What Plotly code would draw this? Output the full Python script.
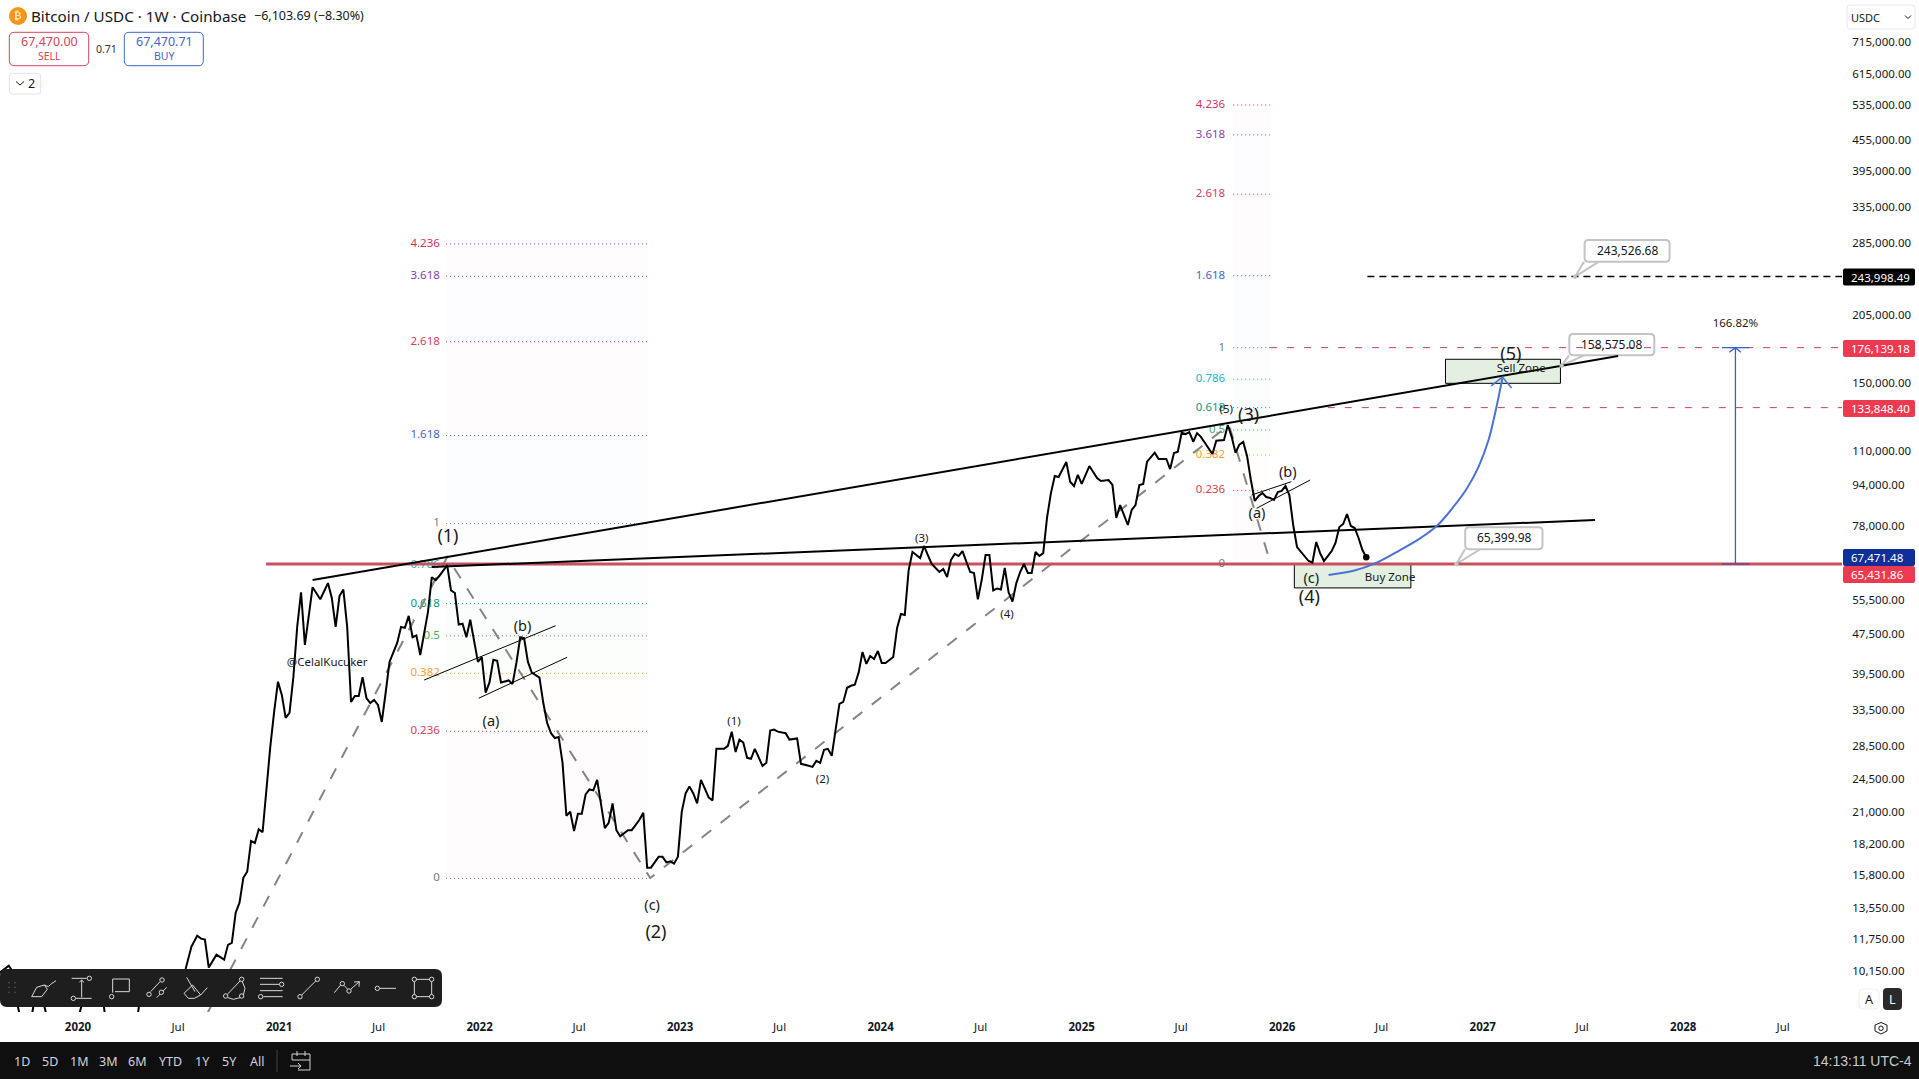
import datetime as dt
import plotly.graph_objects as go

W, H = 1919, 1079
PLOT_R, PLOT_B = 1842, 1012
FONT = "Noto Sans"

# ---------- data ----------
price_weeks = [-22,-21,-20,-19,-18,-17,-16,-15,-14,-13,-12,-11,-10,-9,-8,-7,-6,-5,-4,-3,-2,-1,0,1,2,3,4,5,6,7,8,9,10,11,12,13,14,15,16,17,18,19,20,21,22,23,24,25,26,27,28,
 29.5,31,32,33,34,36,38,39,40,41,42,43,44,45,46,47,48,49,50,51,52,53,54,55,56,57,58,59,60,61,63,65,66,67,68,69,70,71,72,73,74,75,76,77,78,79,80,81,83,84,85,86,87,88,89,91,92,93,94,96,97,98,99,100,101,102,104,105,106,107,108,109,110,112,113,114,115,116,117,118,120,121,122,123,124,125,126,127,128,129,130,131,132,133,134,135,137,138,139,140,141,143,144,146,147,148,149,151,152,153,154,155,156,157,158,159,160,161,162,164,165,166,168,169,170,171,172,173,174,175,176,177,178,179,180,181,182,184,185,187,188,190,191,192,193,194,195,196,197,198,199,200,201,202,203,204,205,206,207,208,209,210,212,213,214,215,216,217,219,220,221,222,224,225,226,227,228,229,230,231,232,233,234,235,236,237,238,239,240,241,242,243,244,245,246,247,248,249,250,251,252,253,254,255,257,258,259,260,261,263,265,266,268,269,270,271,273,274,275,276,277,278,280,281,283,284,285,286,287,288,289,290,291,292,295,296,298,299,300,301,302,303,304,305,306,307,308,309,310,311,312,313,314,315,316,317,318,319,320,321,322,323,324,325,326,327,328,329,330,331,332,333,334,335]
price_values = [9800,9990,10130,10270,10410,10130,8900,8200,8000,7900,8300,9200,9300,8800,8200,7600,7400,7300,7200,7300,7500,7300,8200,8700,8800,9300,9300,9800,9700,8300,7800,6500,5400,6200,6800,7000,7100,7800,8800,9500,9700,9300,9700,9600,9500,9300,9200,9200,9300,9700,10260,
 11360,11940,11780,11730,10320,10950,10700,11450,11560,13270,13890,15570,16000,18420,18250,19440,19170,23590,28340,33250,38190,35940,32350,33100,38990,49060,57500,45180,52300,58840,55690,59960,56000,49060,56500,58200,49060,34810,35760,35760,38990,35440,34630,35130,34340,31760,36300,41800,45600,49060,48850,51600,46800,47200,43150,52500,61600,60800,62000,65100,58000,57300,49600,49800,46800,50700,41800,42750,36300,38050,42200,42000,38050,38400,37800,41600,46800,46600,41800,39800,38900,34630,31600,30170,29500,29650,26340,20670,21050,19270,20860,20860,22800,23320,23220,24370,19530,20010,21870,19350,18820,19350,19350,20300,20960,16300,16300,17140,17140,16700,16780,16600,17140,21050,22900,23650,22900,21870,24370,22480,22170,28080,28080,28470,30380,27680,29300,28900,26950,26830,28080,27060,25980,26340,30520,30660,30380,30170,29300,29450,26220,25980,25860,26580,26340,27960,28080,27200,30660,34490,34810,37140,37480,37650,39810,43750,41420,42950,42360,43950,41610,41610,42750,48850,52060,51820,63650,69140,67240,71070,68170,65431,63080,63960,61650,66630,68540,67870,69420,66030,63080,62800,55690,60800,68170,68170,57970,58500,58240,64260,57430,55100,59960,63080,65431,62800,62800,69140,67870,68770,81000,90520,97900,97450,104340,95350,93500,98360,94380,102440,97000,95650,96100,93930,80780,85700,78220,83780,85700,93930,94380,104500,108900,105800,105800,101050,108760,109400,119300,118600,119700,114500,119100,117100,108250,115050,115400,123600,117100,108900,113000,114400,107300,96100,87300,89300,90520,88900,88500,87700,90980,91400,93500,89700,78220,70720,69130,67870,66330,65880,72360,68770,66330,67870,69420,72030,77500,78580,82240,77860,77150,73700,69760,67471]

price_ticks = [715000,615000,535000,455000,395000,335000,285000,205000,150000,110000,94000,78000,55500,47500,39500,33500,28500,24500,21000,18200,15800,13550,11750,10150]
date_ticks = ["2020-01-01","2020-07-01","2021-01-01","2021-07-01","2022-01-01","2022-07-01","2023-01-01","2023-07-01","2024-01-01","2024-07-01","2025-01-01","2025-07-01","2026-01-01","2026-07-01","2027-01-01","2027-07-01","2028-01-01","2028-07-01"]
date_tick_text = ["<b>2020</b>","Jul","<b>2021</b>","Jul","<b>2022</b>","Jul","<b>2023</b>","Jul","<b>2024</b>","Jul","<b>2025</b>","Jul","<b>2026</b>","Jul","<b>2027</b>","Jul","<b>2028</b>","Jul"]

fib_levels = ["0","0.236","0.382","0.5","0.618","0.786","1","1.618","2.618","3.618","4.236"]
fib_colors = ["#787b86","#d8405a","#f5a02c","#4caf50","#089981","#22b5cf","#787b86","#3f66d0","#d8405a","#8e3aa8","#d8305f"]
fib1_prices = [15520,30435,39662,47120,54578,65195,78720,117778,180978,244178,283235]
fib2_prices = [65431,91558,107721,120785,133849,152448,176139,244849,355557,466265,534680]
fib1_weeks = [95.7,148.2]
fib2_weeks = [300.4,310]
fib1_label_week = 94.1
fib2_label_week = 298.3

wave_weeks = [25,96,148.8,299.3,310]
wave_prices = [6270,67560,15548,123600,66000]

upper_trend_weeks = [61,400.5]
upper_trend_prices = [60810,169500]
lower_trend_weeks = [92,394.5]
lower_trend_prices = [64540,80030]
support_weeks = [48.9,460]
support_prices = [65431,65431]

thin_lines = [
    ([90,124.2],[38470,49330]),
    ([104.2,127.2],[35400,42700]),
    ([305.2,315.5],[89730,95350]),
    ([306.5,320.4],[84440,96100]),
]
buy_zone_weeks = [316.3,346.6]
buy_zone_prices = [65431,58650]
sell_zone_weeks = [355.6,385.5]
sell_zone_prices = [167000,149600]

curve_weeks = [325.2,331.7,337.3,343.8,349,353.4,357.7,361.2,364.2,366.8,368.5,369.6,370.4]
curve_prices = [62250,63450,65640,69760,73600,77970,85040,92540,102100,115400,130440,142900,153070]
curve_head_weeks = [367.5,370.4,372.8]
curve_head_prices = [147800,153900,146400]

measure_week = 431
measure_prices = [65431,176139]
measure_cap_weeks = [427.5,434.6]
measure_head_weeks = [429.4,431,432.4]
measure_head_prices = [172400,176139,172400]

level_lines = [
    (335.3,243998.49,"#000000",1.5,"7px,5px"),
    (310,176139.18,"#c2405f",1,"7px,10px"),
    (325,133848.40,"#c2405f",1,"7px,10px"),
]

label_text = ["(1)","(a)","(b)","@CelalKucuker","(c)","(2)","(1)","(2)","(3)","(4)","(5)","(3)","(a)","(b)","(c)","(4)","(5)","Sell Zone","Buy Zone","166.82%"]
label_weeks = [96.2,107.4,115.6,64.8,149.3,150.3,170.6,193.6,219.4,241.6,298.6,304.4,306.6,314.6,320.7,320.2,372.6,375.3,341.2,431]
label_prices = [73990,31650,48850,41610,13630,12050,31760,24370,73400,51800,132400,128300,82240,99230,61100,55900,170100,159700,61400,195800]
label_sizes = [18,14.5,14.5,11.5,14.5,18,11.5,11.5,11.5,11.5,11.5,18,14.5,14.5,14.5,18,18,11.5,11.5,11.5]

def week_date(w):
    d = dt.datetime(2020,1,1) + dt.timedelta(days=w*7)
    return d.strftime("%Y-%m-%d %H:%M")

def dates(ws):
    return [week_date(w) for w in ws]

fig = go.Figure()

def line(ws, ps, color="#000", width=2, dash=None, shape=None):
    l = dict(color=color, width=width)
    if dash: l["dash"] = dash
    if shape: l["shape"] = shape
    fig.add_trace(go.Scatter(x=dates(ws), y=ps, mode="lines", line=l, hoverinfo="skip", showlegend=False))

# Fibonacci bands and levels
for weeks, prices in ((fib1_weeks, fib1_prices),(fib2_weeks, fib2_prices)):
    for i in range(len(prices)-1):
        c = fib_colors[i+1].lstrip("#")
        rgb = tuple(int(c[j:j+2],16) for j in (0,2,4))
        fig.add_trace(go.Scatter(x=dates([weeks[0],weeks[1],weeks[1],weeks[0],weeks[0]]),
            y=[prices[i],prices[i],prices[i+1],prices[i+1],prices[i]], mode="lines",
            line=dict(width=0), fill="toself", fillcolor=f"rgba({rgb[0]},{rgb[1]},{rgb[2]},0.014)",
            hoverinfo="skip", showlegend=False))
    for p, c in zip(prices, fib_colors):
        line(weeks, [p,p], color=c, width=1, dash="1px,3px")

for wk, p in ((fib1_label_week, fib1_prices),(fib2_label_week, fib2_prices)):
    fig.add_trace(go.Scatter(x=dates([wk]*len(p)), y=p, mode="text", text=fib_levels,
        textposition="middle left", textfont=dict(color=fib_colors, size=11.5, family=FONT),
        hoverinfo="skip", showlegend=False))

def zone(ws, ps):
    fig.add_trace(go.Scatter(x=dates([ws[0],ws[1],ws[1],ws[0],ws[0]]), y=[ps[0],ps[0],ps[1],ps[1],ps[0]],
        mode="lines", line=dict(color="#000", width=1), fill="toself", fillcolor="#e2efe1",
        hoverinfo="skip", showlegend=False))
zone(buy_zone_weeks, buy_zone_prices)
zone(sell_zone_weeks, sell_zone_prices)

for w, p, c, lw, d in level_lines:
    line([w,460],[p,p],color=c,width=lw,dash=d)

line(wave_weeks, wave_prices, color="#848484", width=2, dash="12px,12px")
line(support_weeks, support_prices, color="#c8505f", width=3.2)
line(upper_trend_weeks, upper_trend_prices, width=2)
line(lower_trend_weeks, lower_trend_prices, width=2)
for ws, ps in thin_lines:
    line(ws, ps, width=1)

line(price_weeks, price_values, width=2)
fig.add_trace(go.Scatter(x=dates(price_weeks[-1:]), y=price_values[-1:], mode="markers",
    marker=dict(color="#000", size=6.5), hoverinfo="skip", showlegend=False))

line(curve_weeks, curve_prices, color="#4a72d6", width=2, shape="spline")
line(curve_head_weeks, curve_head_prices, color="#4a72d6", width=1.5)
line([measure_week,measure_week], measure_prices, color="#3a62c4", width=1.3)
line(measure_cap_weeks, [176139,176139], color="#3a62c4", width=1.3)
line(measure_cap_weeks, [65431,65431], color="#5b4a96", width=1.3)
line(measure_head_weeks, measure_head_prices, color="#3a62c4", width=1.3)

fig.add_trace(go.Scatter(x=dates(label_weeks), y=label_prices, mode="text", text=label_text,
    textposition="middle center", textfont=dict(color="#1a1a1a", size=label_sizes, family=FONT),
    hoverinfo="skip", showlegend=False))

# ---------- interface chrome, placed on the page ----------
fx = lambda x: x/W
fy = lambda y: 1-y/H
shapes, notes = [], []

def rrect(x0,y0,x1,y1,r,fill=None,stroke=None,lw=1,layer="above"):
    X0,X1,Y0,Y1 = fx(x0),fx(x1),fy(y0),fy(y1)
    rx,ry = r/W, r/H
    p = (f"M{X0+rx},{Y0} L{X1-rx},{Y0} Q{X1},{Y0} {X1},{Y0-ry} L{X1},{Y1+ry} Q{X1},{Y1} {X1-rx},{Y1} "
         f"L{X0+rx},{Y1} Q{X0},{Y1} {X0},{Y1+ry} L{X0},{Y0-ry} Q{X0},{Y0} {X0+rx},{Y0} Z")
    shapes.append(dict(type="path",path=p,xref="paper",yref="paper",fillcolor=fill or "rgba(0,0,0,0)",
        line=dict(color=stroke or "rgba(0,0,0,0)",width=lw),layer=layer))

def poly(pts,stroke="#d9d9d9",lw=1,fill=None,close=False,layer="above"):
    p = "M"+" L".join(f"{fx(x)},{fy(y)}" for x,y in pts)+(" Z" if close else "")
    shapes.append(dict(type="path",path=p,xref="paper",yref="paper",fillcolor=fill or "rgba(0,0,0,0)",
        line=dict(color=stroke,width=lw),layer=layer))

def dot(x,y,r,stroke="#d9d9d9",fill="#1e1e1e",lw=1):
    shapes.append(dict(type="circle",xref="paper",yref="paper",x0=fx(x-r),x1=fx(x+r),y0=fy(y+r),y1=fy(y-r),
        fillcolor=fill,line=dict(color=stroke,width=lw),layer="above"))

def text(x,y,s,size=12,color="#131722",anchor="center",family=FONT):
    notes.append(dict(x=fx(x),y=fy(y),xref="paper",yref="paper",text=s,showarrow=False,xanchor=anchor,yanchor="middle",
        font=dict(size=size,color=color,family=family),borderpad=0,borderwidth=0))

# axis pane and bottom bar
shapes.append(dict(type="rect",xref="paper",yref="paper",x0=0,x1=1,y0=0,y1=fy(1042),fillcolor="#0f0f0f",line=dict(width=0),layer="above"))
for cx,s in zip([22,50,79,108,137,170,202,229,257],["1D","5D","1M","3M","6M","YTD","1Y","5Y","All"]):
    text(cx,1061,s,size=12.5,color="#d1d4dc")
poly([(277,1050),(277,1072)],stroke="#434343")
poly([(310,1060),(310,1054),(292,1054),(292,1060)],stroke="#d1d4dc")
poly([(292,1060),(310,1060),(310,1070),(298,1070)],stroke="#d1d4dc")
poly([(297,1051),(297,1056)],stroke="#d1d4dc"); poly([(305,1051),(305,1056)],stroke="#d1d4dc")
poly([(290,1066),(301,1066)],stroke="#d1d4dc"); poly([(298,1063),(301,1066),(298,1069)],stroke="#d1d4dc")
text(1912,1061,"14:13:11 UTC-4",size=14,color="#c8cad0",anchor="right",family="Liberation Sans")

# drawing toolbar
rrect(0,969,442,1007,7,fill="#1e1e1e")
tb = lambda X,Y: (X/3, 950+Y/3)
for X in (27,45):
    for Y in (98,112,127):
        dot(*tb(X,Y),0.6,stroke="#555",fill="#555",lw=0.5)
def tline(*pts,**k): poly([tb(*p) for p in pts],**k)
def tdot(X,Y,r=2.2): dot(*tb(X,Y),r)
tline((95,140),(110,112),(133,105),(142,118),(125,140),(95,140))
tline((133,105),(145,110),(152,103),(168,92))
tline((215,85),(260,85)); tdot(268,85); tline((228,145),(275,145)); tdot(220,145)
tline((245,90),(245,142)); tline((238,97),(245,90),(252,97))
tline((338,128),(338,87),(388,87),(388,125),(345,125)); tdot(335,140)
tline((452,125),(480,95)); tdot(447,133); tdot(486,90)
tline((470,143),(500,112)); tdot(484,127)
tline((552,130),(578,105),(602,135),(622,113)); tline((560,82),(585,125)); tline((552,130),(565,145),(583,145),(602,135))
tdot(677,138); tdot(725,88); tdot(725,138)
tline((683,132),(720,93)); tline((727,95),(735,115),(730,135)); tline((684,143),(700,148),(720,143))
tline((780,85),(848,85)); tline((780,103),(838,103)); tdot(845,103); tline((780,122),(848,122)); tline((790,140),(848,140)); tdot(782,140)
tline((905,135),(948,92)); tdot(900,140); tdot(952,88)
tline((1003,128),(1022,105)); tdot(1027,101); tline((1032,106),(1043,118)); tdot(1047,123); tline((1052,118),(1078,95)); tline((1062,96),(1078,95),(1077,110))
tdot(1132,115); tline((1140,115),(1188,115))
tline((1248,88),(1290,88)); tline((1248,140),(1290,140)); tline((1243,94),(1243,134)); tline((1295,94),(1295,134))
for p in ((1243,88),(1295,88),(1243,140),(1295,140)): tdot(*p)

# header
shapes.append(dict(type="circle",xref="paper",yref="paper",x0=fx(9),x1=fx(27),y0=fy(25),y1=fy(7),fillcolor="#f7931a",line=dict(width=0),layer="above"))
text(18,16,"₿",size=11,color="#ffffff",family="DejaVu Sans")
text(31,16,"Bitcoin / USDC · 1W · Coinbase",size=15.2,color="#131722",anchor="left")
text(254,16,"−6,103.69 (−8.30%)",size=12.5,color="#131722",anchor="left")
rrect(9.3,32.3,88.7,65.7,5,fill="#ffffff",stroke="#d0455a")
text(49,41.5,"67,470.00",size=12.5,color="#d0455a"); text(49,56,"SELL",size=10.5,color="#d0455a")
text(106.5,48.7,"0.71",size=10.5,color="#333")
rrect(124.3,32.3,203.3,65.7,5,fill="#ffffff",stroke="#3f66c8")
text(164,41.5,"67,470.71",size=12.5,color="#3f66c8"); text(164,56,"BUY",size=10.5,color="#3f66c8")
rrect(9.3,73.3,40.7,94,3,fill="#ffffff",stroke="#e0e3eb")
poly([(16,81.5),(20,85),(24,81.5)],stroke="#131722"); text(32,83.5,"2",size=12.5)

# currency selector
rrect(1847,5,1915,29,3,fill="#ffffff",stroke="#e6e8ee")
text(1851,17,"USDC",size=11,anchor="left")
poly([(1905,15.5),(1908,18.5),(1911,15.5)],stroke="#131722")

# price tags
for y0,y1,c,s in ((268.5,285.5,"#000000","243,998.49"),(340,357,"#ee3a50","176,139.18"),(400,417,"#ee3a50","133,848.40"),(549,566,"#0f2f9b","67,471.48"),(566,583,"#ee3a50","65,431.86")):
    rrect(1843,y0,1915,y1,2,fill=c)
    text(1851,(y0+y1)/2,s,size=11.5,color="#ffffff",anchor="left")

# scale buttons
rrect(1859,989,1879,1009,4,fill="#ffffff",stroke="#eeeeee")
text(1869,999,"A",size=12.5)
rrect(1883,988,1902,1010,4,fill="#2a2a2a")
text(1892.5,999,"L",size=12.5,color="#ffffff")
poly([(1881,1022.5),(1887,1025),(1887,1031),(1881,1034),(1875,1031),(1875,1025)],stroke="#131722",close=True)
shapes.append(dict(type="circle",xref="paper",yref="paper",x0=fx(1878.8),x1=fx(1883.2),y0=fy(1030.5),y1=fy(1026),fillcolor="rgba(0,0,0,0)",line=dict(color="#131722",width=1),layer="above"))

# callouts
def callout(x0,y0,x1,y1,tipx,tipy,basex,s,cx,cy):
    poly([(basex+15,y1),(tipx,tipy),(basex,y1)],stroke="#c4c4c4",lw=2,layer="below")
    rrect(x0,y0,x1,y1,4,fill="#ffffff",stroke="#c4c4c4",lw=2,layer="below")
    dot(tipx,tipy,1.8,stroke="#c4c4c4",fill="#c4c4c4")
    text(cx,cy,s,size=12)
callout(1584.6,240,1669.6,261.7,1575,276.7,1584,"243,526.68",1627,250.7)
callout(1569.3,334,1654.3,355.3,1561.6,365.7,1569,"158,575.08",1611.4,344.3)
callout(1465.2,527.3,1542.5,549.3,1456.4,564,1465,"65,399.98",1504,537.7)

fig.update_layout(
    width=W, height=H, autosize=False, margin=dict(l=0,r=0,t=0,b=0,pad=0),
    paper_bgcolor="#ffffff", plot_bgcolor="#ffffff", showlegend=False,
    shapes=shapes, annotations=notes,
    font=dict(family=FONT, size=12, color="#131722"),
    xaxis=dict(type="date", domain=[0,PLOT_R/W], range=["2019-08-12","2028-10-16"],
        tickmode="array", tickvals=date_ticks, ticktext=date_tick_text,
        showgrid=False, zeroline=False, showline=False, ticks="outside", ticklen=4, tickcolor="#ffffff",
        tickfont=dict(size=11.5, color="#131722", family=FONT)),
    yaxis=dict(type="log", domain=[1-PLOT_B/H,1], range=[3.92536,5.93682], autorange=False, side="right",
        tickmode="array", tickvals=price_ticks, ticktext=[f"{v:,.2f}" for v in price_ticks],
        showgrid=False, zeroline=False, showline=False, ticks="outside", ticklen=7, tickcolor="#ffffff",
        tickfont=dict(size=11.5, color="#131722", family=FONT)),
)
fig.write_html("out.html", config=dict(displayModeBar=False),
    post_script="document.body.style.margin='0';document.body.style.overflow='hidden';")
